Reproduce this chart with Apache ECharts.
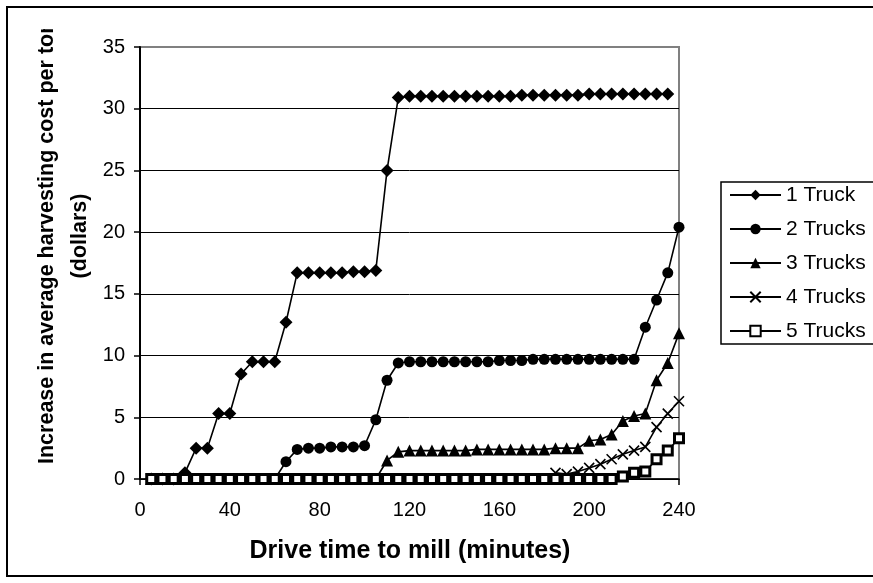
<!DOCTYPE html>
<html>
<head>
<meta charset="utf-8">
<script src="https://cdn.jsdelivr.net/npm/echarts@6/dist/echarts.min.js"></script>
<style>
  html, body { margin: 0; padding: 0; background: #fff; }
  #chart { width: 873px; height: 583px; }
</style>
</head>
<body>
<div id="chart"></div>
<script>
// Drive time to mill, in minutes
const minutes = [5, 10, 15, 20, 25, 30, 35, 40, 45, 50, 55, 60, 65, 70, 75, 80, 85, 90, 95, 100,
  105, 110, 115, 120, 125, 130, 135, 140, 145, 150, 155, 160, 165, 170, 175, 180, 185, 190, 195, 200,
  205, 210, 215, 220, 225, 230, 235, 240];

// Increase in average harvesting cost per ton (dollars), by fleet size
const truck1 = [0, 0, 0, 0.5, 2.5, 2.5, 5.3, 5.3, 8.5, 9.5, 9.5, 9.5, 12.7, 16.7, 16.7, 16.7, 16.7, 16.7, 16.8, 16.8,
  16.9, 25.0, 30.9, 31.0, 31.0, 31.0, 31.0, 31.0, 31.0, 31.0, 31.0, 31.0, 31.0, 31.1, 31.1, 31.1, 31.1, 31.1, 31.1, 31.2,
  31.2, 31.2, 31.2, 31.2, 31.2, 31.2, 31.2, null];
const truck2 = [0, 0, 0, 0, 0, 0, 0, 0, 0, 0, 0, 0, 1.4, 2.4, 2.5, 2.5, 2.6, 2.6, 2.6, 2.7,
  4.8, 8.0, 9.4, 9.5, 9.5, 9.5, 9.5, 9.5, 9.5, 9.5, 9.5, 9.6, 9.6, 9.6, 9.7, 9.7, 9.7, 9.7, 9.7, 9.7,
  9.7, 9.7, 9.7, 9.7, 12.3, 14.5, 16.7, 20.4];
const truck3 = [0, 0, 0, 0, 0, 0, 0, 0, 0, 0, 0, 0, 0, 0, 0, 0, 0, 0, 0, 0,
  0, 1.5, 2.2, 2.3, 2.3, 2.3, 2.3, 2.3, 2.3, 2.4, 2.4, 2.4, 2.4, 2.4, 2.4, 2.4, 2.5, 2.5, 2.5, 3.1,
  3.2, 3.6, 4.7, 5.1, 5.3, 8.0, 9.4, 11.8];
const truck4 = [0, 0, 0, 0, 0, 0, 0, 0, 0, 0, 0, 0, 0, 0, 0, 0, 0, 0, 0, 0,
  0, 0, 0, 0, 0, 0, 0, 0, 0, 0, 0, 0, 0, 0, 0, 0, 0.5, 0.4, 0.6, 0.9,
  1.2, 1.6, 2.0, 2.3, 2.6, 4.2, 5.3, 6.3];
const truck5 = [0, 0, 0, 0, 0, 0, 0, 0, 0, 0, 0, 0, 0, 0, 0, 0, 0, 0, 0, 0,
  0, 0, 0, 0, 0, 0, 0, 0, 0, 0, 0, 0, 0, 0, 0, 0, 0, 0, 0, 0,
  0, 0, 0.2, 0.5, 0.6, 1.6, 2.3, 3.3];

const seriesNames = ['1 Truck', '2 Trucks', '3 Trucks', '4 Trucks', '5 Trucks'];
const xTicks = [0, 40, 80, 120, 160, 200, 240];
const yTicks = [0, 5, 10, 15, 20, 25, 30, 35];

const xTitle = 'Drive time to mill (minutes)';
const yTitle1 = 'Increase in average harvesting cost per ton';
const yTitle2 = '(dollars)';

const FONT = '"Liberation Sans", Arial, sans-serif';

function pairs(values) {
  const out = [];
  for (let i = 0; i < minutes.length; i++) {
    if (values[i] !== null && values[i] !== undefined) out.push([minutes[i], values[i]]);
  }
  return out;
}

const crossPath = 'path://M0,0L10,10M10,0L0,10';

const markerStyles = [
  { symbol: 'diamond', symbolSize: 13, itemStyle: { color: '#000' } },
  { symbol: 'circle', symbolSize: 11, itemStyle: { color: '#000' } },
  { symbol: 'triangle', symbolSize: 12, itemStyle: { color: '#000' } },
  { symbol: crossPath, symbolSize: 10, itemStyle: { color: 'rgba(0,0,0,0)', borderColor: '#000', borderWidth: 1.6 } },
  { symbol: 'rect', symbolSize: 9, itemStyle: { color: '#fff', borderColor: '#000', borderWidth: 3 } }
];

const dataSets = [truck1, truck2, truck3, truck4, truck5];

const series = dataSets.map((vals, i) => Object.assign({
  name: seriesNames[i],
  type: 'line',
  data: pairs(vals),
  showAllSymbol: true,
  lineStyle: { color: '#000', width: 1.6 },
  emphasis: { disabled: true },
  z: 2 + i
}, markerStyles[i]));

const chart = echarts.init(document.getElementById('chart'), null, { renderer: 'canvas' });

const gridTop = 47, gridLeft = 140, gridRight = 194, gridBottom = 104;

chart.setOption({
  animation: false,
  backgroundColor: '#fff',
  textStyle: { fontFamily: FONT, color: '#000' },
  grid: {
    left: gridLeft, right: gridRight, top: gridTop, bottom: gridBottom,
    show: true, borderColor: '#808080', borderWidth: 2, backgroundColor: 'transparent'
  },
  xAxis: {
    type: 'value',
    min: xTicks[0], max: xTicks[xTicks.length - 1], interval: 40,
    axisLine: { show: true, lineStyle: { color: '#000', width: 1.5 } },
    axisTick: { show: true, inside: false, length: 6, lineStyle: { color: '#000', width: 1.5 } },
    axisLabel: { color: '#000', fontSize: 20, fontFamily: FONT, margin: 21 },
    splitLine: { show: false }
  },
  yAxis: {
    type: 'value',
    min: yTicks[0], max: yTicks[yTicks.length - 1], interval: 5,
    axisLine: { show: true, lineStyle: { color: '#000', width: 2 } },
    axisTick: { show: true, inside: false, length: 6, lineStyle: { color: '#000', width: 1.5 } },
    axisLabel: { color: '#000', fontSize: 20, fontFamily: FONT, margin: 15 },
    splitLine: {
      show: true,
      lineStyle: { color: ['#000', '#000', '#000', '#000', '#000', '#000', '#000', '#808080'], width: 1 }
    }
  },
  legend: {
    orient: 'vertical',
    left: 721, top: 182,
    padding: [2, 10, 2, 8],
    itemWidth: 51, itemHeight: 13, itemGap: 12,
    borderWidth: 0,
    data: seriesNames,
    textStyle: { fontSize: 21, fontFamily: FONT, color: '#000', lineHeight: 22 },
    selectedMode: false
  },
  graphic: [
    {
      // legend frame, running past the right edge of the chart area
      type: 'rect', z: 0,
      shape: { x: 721, y: 182, width: 200, height: 162 },
      style: { fill: '#fff', stroke: '#000', lineWidth: 1.5 }
    },
    {
      type: 'text', x: 410, y: 551, z: 50,
      style: { text: xTitle, font: 'bold 25px ' + FONT, fill: '#000', textAlign: 'center', textVerticalAlign: 'middle' }
    },
    {
      type: 'text', x: 47, y: 464, rotation: Math.PI / 2, z: 50,
      style: { text: yTitle1, font: 'bold 21.5px ' + FONT, fill: '#000', textAlign: 'left', textVerticalAlign: 'middle' }
    },
    {
      type: 'text', x: 80, y: 236, rotation: Math.PI / 2, z: 50,
      style: { text: yTitle2, font: 'bold 21.5px ' + FONT, fill: '#000', textAlign: 'center', textVerticalAlign: 'middle' }
    },
    {
      // the title box ends just below the chart frame
      type: 'rect', z: 90,
      shape: { x: 20, y: 8, width: 60, height: 21 },
      style: { fill: '#fff' }
    },
    {
      type: 'rect', z: 100,
      shape: { x: 7, y: 7, width: 900, height: 569 },
      style: { fill: 'none', stroke: '#000', lineWidth: 2 }
    }
  ],
  series: series
});
</script>
</body>
</html>
